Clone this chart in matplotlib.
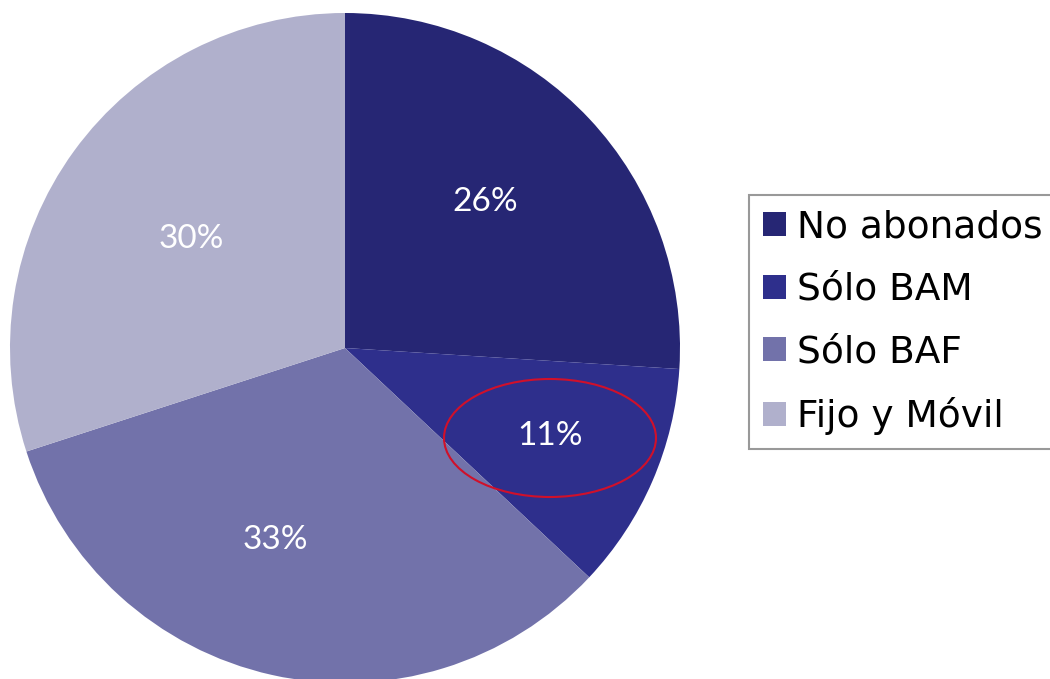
import matplotlib
matplotlib.use('Agg')
import matplotlib.pyplot as plt
from matplotlib.patches import Ellipse

# Subscriber breakdown
categorias = ['No abonados', 'Sólo BAM', 'Sólo BAF', 'Fijo y Móvil']
porcentajes = [26, 11, 33, 30]
colores = ['#262674', '#2e2f8c', '#7272aa', '#b0b0cc']

# label offsets from the pie centre (pixels)
offsets = [(140, 146), (205, -88), (-70, -192), (-154, 109)]

fig = plt.figure(figsize=(10.5, 6.79), dpi=100)
ax = fig.add_axes([0, 0, 1, 1])

# pixel-like coordinates so the pie sits where we want it
cx, cy, r = 345, 679 - 348, 335
wedges, texts, autotexts = ax.pie(
    porcentajes, colors=colores, startangle=90, counterclock=False,
    center=(cx, cy), radius=r, autopct='%d%%', pctdistance=0.62,
    textprops={'color': 'white', 'fontsize': 24, 'family': ['Lato', 'DejaVu Sans']},
)
for t, (dx, dy) in zip(autotexts, offsets):
    t.set_position((cx + dx, cy + dy))

ax.set_xlim(0, 1050)
ax.set_ylim(0, 679)
ax.set_aspect('equal')
ax.axis('off')

# highlight the small BAM slice
idx = categorias.index('Sólo BAM')
lx, ly = autotexts[idx].get_position()
ax.add_patch(Ellipse((lx, ly - 2), 212, 118, fill=False, edgecolor='#d0102a', lw=1.5))

leg = fig.legend(wedges, categorias, loc='upper left',
                 bbox_to_anchor=(749 / 1050, 1 - 195 / 679),
                 fontsize=27, frameon=True, fancybox=False,
                 handlelength=0.61, handleheight=0.61, handletextpad=0.3,
                 labelspacing=0.71, borderpad=0.38, borderaxespad=0)
leg.get_frame().set_edgecolor('#808080')
leg.get_frame().set_linewidth(1.5)

fig.savefig('out.png', dpi=100)
